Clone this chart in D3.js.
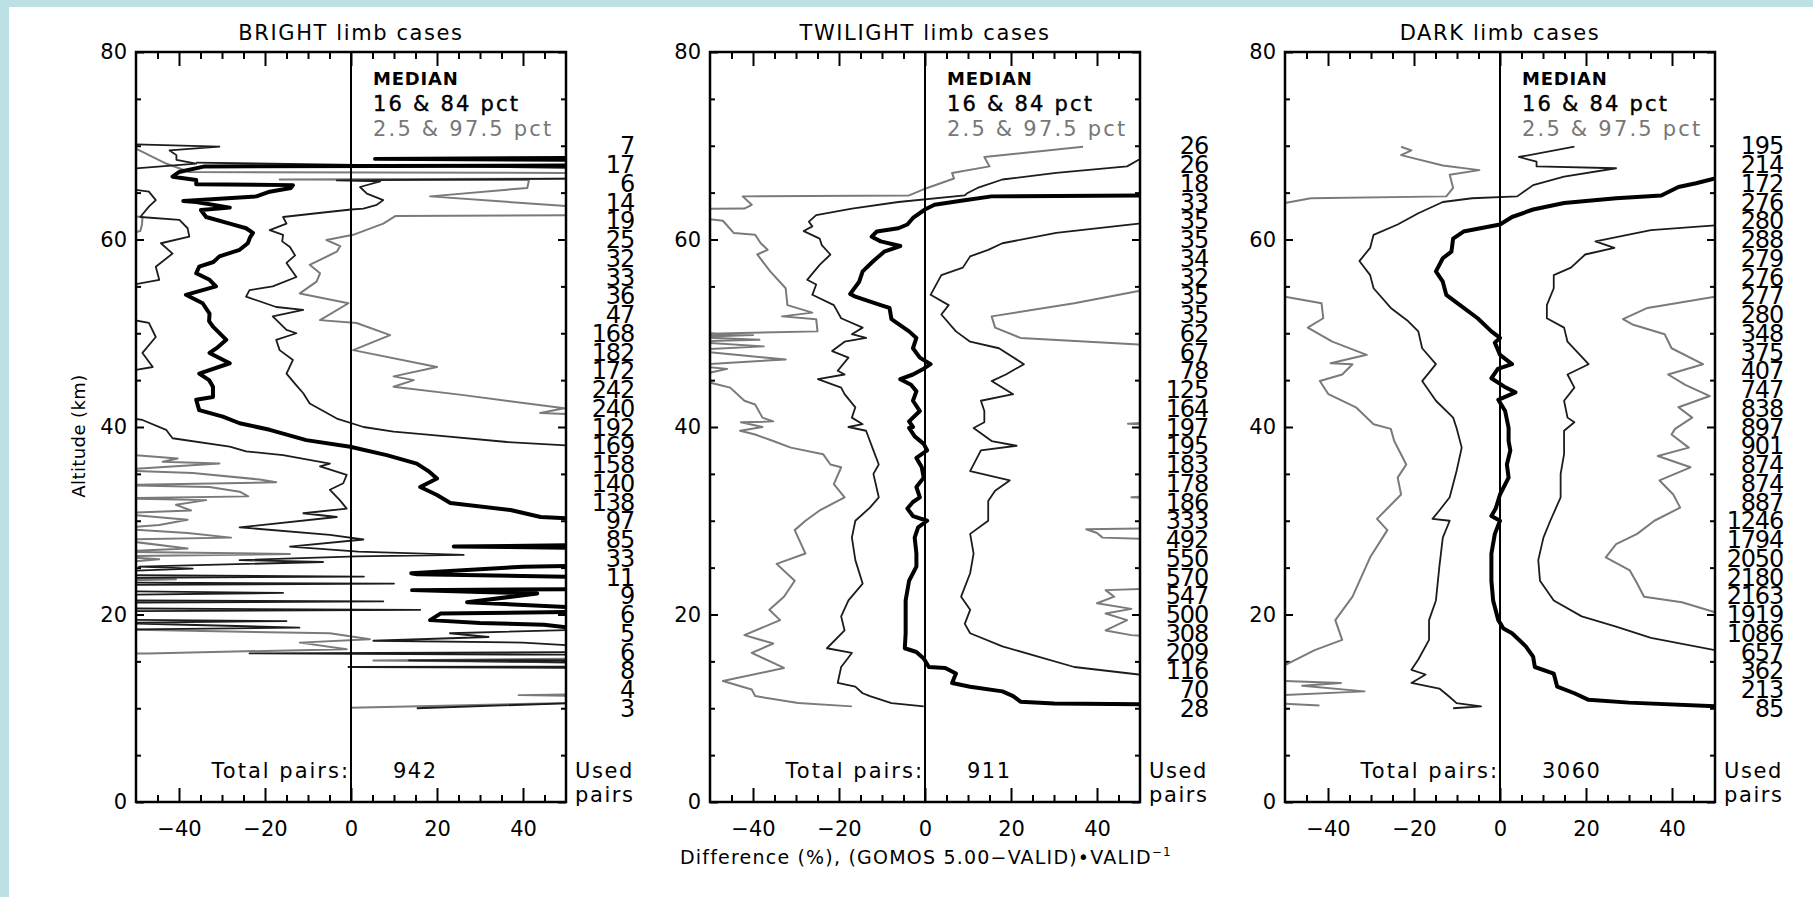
<!DOCTYPE html>
<html><head><meta charset="utf-8">
<script src="https://cdn.jsdelivr.net/npm/d3@7"></script>
<style>
html,body{margin:0;padding:0;background:#fff;}
svg{display:block;}
text{font-family:"DejaVu Sans",sans-serif;}
</style></head>
<body>
<svg id="chart" width="1813" height="897"></svg>
<script>
// ---------------- DATA ----------------
// each profile: [altitude km, difference %]
const panelTitles = ["BRIGHT limb cases", "TWILIGHT limb cases", "DARK limb cases"];
const totalPairs = [942, 911, 3060];
const pairAltitudes = [70,68,66,64,62,60,58,56,54,52,50,48,46,44,42,40,38,36,34,32,30,28,26,24,22,20,18,16,14,12,10];
const brightPairs = [7,17,6,14,19,25,32,33,36,47,168,182,172,242,240,192,169,158,140,138,97,85,33,11,9,6,5,6,8,4,3];
const twilightPairs = [26,26,18,33,35,35,34,32,35,35,62,67,78,125,164,197,195,183,178,186,333,492,550,570,547,500,308,209,116,70,28];
const darkPairs = [195,214,172,276,280,288,279,276,277,280,348,375,407,747,838,897,901,874,874,887,1246,1794,2050,2180,2163,1919,1086,657,362,213,85];
const xTickValues = [-40,-20,0,20,40];
const yTickValues = [0,20,40,60,80];

const brightMed = [[68.7,60],[68.6,5.6],[68.5,60],[67.9,60],[67.8,-34],[67.2,-40],[66.7,-41.5],[66.35,-36],[65.9,-36],[65.8,-13.5],[65.5,-14],[65.1,-18.9],[64.6,-22],[64.1,-39],[64.0,-36],[63.4,-28.2],[63.15,-34.9],[62.4,-33.7],[61.7,-28.2],[61.2,-24.4],[60.7,-22.8],[60.2,-23.5],[59.6,-24],[58.9,-25.9],[58.2,-30.6],[57.6,-32],[57.1,-35.3],[56.4,-36],[55.7,-32.9],[55.0,-31.4],[54.1,-38.4],[53.2,-34.5],[52.1,-32.9],[51.3,-33],[50.7,-32.1],[49.3,-29],[48.5,-31],[47.9,-32.9],[46.8,-28.2],[45.7,-35.3],[45.0,-33],[44.3,-32.1],[43.2,-32.1],[42.9,-36],[41.8,-35.3],[41.1,-29.8],[40.4,-25.9],[39.7,-18.9],[38.6,-10.4],[37.9,-0.2],[37.0,8.3],[36.1,15.3],[35.3,18],[34.5,20],[33.6,16.1],[32.75,20],[31.9,23.1],[31.15,37.1],[30.4,44.1],[30.15,55],[27.4,55],[27.25,23.9],[27.1,55],[25.2,55],[25.1,40],[24.4,14],[24.3,15.3],[24.0,55],[22.7,55],[22.6,14.2],[22.4,30],[22.25,43.3],[21.3,27],[20.7,55],[20.3,55],[20.1,20.8],[19.4,18.4],[19.1,30],[18.9,44.9],[18.4,55]];
const brightP16 = [[70.2,-55],[69.9,-30.6],[69.5,-42.2],[69.0,-40.6],[68.5,-40.6],[68.1,-36],[67.4,-55],[65.6,-55],[65.1,-47],[64.2,-45.4],[63.5,-47],[62.4,-49],[62.1,-39.9],[61.2,-38],[60.3,-37.6],[59.6,-44.2],[58.5,-41.5],[57.1,-45.4],[55.7,-44.6],[54.8,-55],[51.8,-55],[51.1,-47],[49.6,-45.4],[47.9,-48.5],[46.4,-46.1],[45.7,-55],[41.2,-55],[40.75,-48.5],[39.7,-43],[38.8,-41.5],[37.9,-28.2],[37.4,-24.4],[37.0,-15.8],[36.1,-4.9],[35.8,-7.2],[34.9,-1],[34.0,-1.8],[33.3,-4.9],[32.2,-2.6],[31.3,-1],[30.8,-11.1],[30.4,-3.3],[29.3,-25.9],[28.5,-4.9],[28.0,2.9],[27.25,-14.2],[26.7,1.7],[26.35,26.2],[26.2,1.3],[25.8,-25.9],[25.6,-6.5],[25.1,-49.3],[24.9,-36.8],[24.6,-55],[24.2,-55],[24.05,3],[23.9,-55],[23.4,-55],[23.3,10],[23.15,-55],[22.5,-55],[22.3,-15.8],[22.1,-55],[21.5,-55],[21.4,7.5],[21.25,-55],[20.65,-55],[20.5,16.1],[20.35,-55],[19.45,-55],[19.3,-15],[19.1,-55],[18.6,-12],[18.4,-55]];
const brightP84 = [[68.2,-36],[67.6,55],[66.5,55],[66.3,-3.3],[66.2,6.8],[65.6,2.1],[64.9,3.7],[64.2,7.5],[63.7,6],[63.3,2.9],[63.2,0],[62.8,-8],[62.4,-15.8],[61.7,-15],[61.0,-18.9],[60.5,-15.8],[59.8,-16],[59.2,-14.2],[58.3,-13],[57.5,-15],[56.0,-12.7],[55.0,-18.2],[54.6,-23.6],[53.9,-24.4],[52.8,-17.4],[52.5,-11.1],[51.8,-18.2],[50.35,-15],[50.0,-12.7],[49.3,-17.4],[48.2,-16.6],[47.15,-13.5],[45.7,-15],[44.6,-13],[43.6,-11.1],[42.5,-9.6],[40.9,-3.3],[40.0,2.9],[39.5,9.9],[39.15,18.4],[38.4,36.3],[37.9,55],[18.4,55],[18.0,23],[17.6,32],[17.2,5.2],[17.0,40],[16.6,55],[16.0,55],[15.85,-23.6],[15.7,55],[15.15,55],[15.1,13.5],[14.9,55],[14.45,55],[14.4,-0.6],[14.3,55],[10.6,55],[10.0,15.3]];
const brightP25 = [[62.6,-55],[62.4,-48.5],[61.6,-48.6],[60.9,-49],[60.3,-55],[38.3,-55],[37.0,-50],[36.65,-40.3],[36.3,-43.8],[36.1,-30.6],[35.4,-55],[35.1,-36.8],[34.4,-21.2],[34.1,-17.4],[33.8,-55],[33.6,-32.9],[33.1,-25.9],[32.6,-23.9],[32.4,-55],[32.2,-33.7],[31.7,-40.7],[31.1,-37.2],[30.8,-55],[30.1,-38],[29.55,-44.6],[29.2,-55],[28.7,-38],[28.2,-27.9],[28.0,-55],[27.05,-38],[26.7,-55],[26.45,-14.2],[26.2,-55],[25.9,-44.6],[25.5,-55],[23.8,-55],[23.75,-40.7],[23.6,-55],[18.4,-55],[18.0,-4.9],[17.35,4.4],[17.0,-11.9],[16.3,-1],[15.85,-47.3],[15.8,-55]];
const brightP975 = [[69.8,-55],[69.7,-50],[68.1,-43],[67.2,-37.6],[67.1,55],[66.5,55],[66.4,-16.6],[66.35,41.4],[65.5,41],[64.6,18.4],[63.4,55],[62.6,55],[62.5,10.3],[61.7,7.5],[60.5,0.5],[59.95,-5.7],[59.3,-2.5],[58.7,-3.3],[57.3,-9.6],[56.4,-7.2],[55.5,-8],[54.25,-11.9],[53.2,-0.6],[51.4,-7.2],[51.1,1.3],[49.8,9.1],[48.2,0.5],[46.4,20],[45.4,9.9],[45.0,14.6],[44.3,9.9],[43.4,26.2],[42.0,49.6],[41.5,44],[41.3,55],[15.3,55],[15.1,5.2],[14.95,40],[14.8,55],[11.5,55],[11.4,39],[11.3,55],[10.6,55],[10.05,0]];

const twiMed = [[64.7,55],[64.6,15.5],[64.15,8.8],[63.7,2.2],[63.2,0],[62.3,-2.8],[61.6,-4.1],[61.2,-6.2],[60.85,-11.2],[60.3,-12.4],[59.8,-10.3],[59.3,-5.75],[58.7,-9.5],[57.7,-12],[56.6,-14.5],[55.5,-15.3],[54.2,-17.4],[53.9,-16.2],[53.0,-10.3],[52.7,-8.25],[51.5,-7.8],[50.2,-3.7],[49.5,-2],[48.4,-2.8],[47.4,-1.2],[46.7,1.3],[46.1,-0.75],[45.6,-2.8],[45.1,-5.75],[44.5,-3.25],[43.8,-2],[42.8,-2.8],[41.7,-1.2],[40.6,-3.7],[40.0,-2.8],[39.9,-3.7],[39.0,-2.4],[38.2,-0.3],[37.5,0.5],[36.7,-2],[35.7,-0.75],[34.6,-0.3],[33.6,-2],[32.5,-1.2],[32.0,-2.8],[31.3,-4.1],[30.5,-2.8],[30.0,0.5],[29.3,-1.6],[28.2,-2.4],[26.5,-2],[25.1,-2],[23.6,-3.7],[21.5,-4.5],[19.4,-4.5],[18.0,-4.5],[16.4,-4.7],[16.0,-2],[15.3,-0.3],[14.4,0.9],[14.3,4.7],[13.7,7.2],[12.7,6.3],[12.3,10.5],[11.8,18],[11.3,20.5],[10.7,22.2],[10.5,30],[10.4,55]];
const twiP16 = [[68.6,55],[68.5,49.7],[67.8,47],[67.1,30.5],[66.4,18],[65.5,12.2],[64.9,9.7],[64.7,9.25],[64.0,-6.2],[63.3,-17],[62.6,-25.3],[61.9,-27],[61.4,-26.2],[60.9,-28.2],[60.1,-24.5],[59.4,-24],[58.4,-22],[57.3,-24.5],[55.7,-27.4],[55.2,-25.3],[54.1,-26.2],[53.0,-21.2],[51.6,-19.5],[50.6,-14.5],[49.9,-17],[49.5,-13.7],[49.1,-18.7],[48.1,-21.6],[47.4,-17.8],[46.0,-20.3],[45.6,-18.7],[45.1,-24.9],[44.2,-19.5],[43.5,-18.7],[42.1,-16.2],[41.0,-17],[40.3,-14.5],[40.0,-17.8],[39.6,-13.7],[37.5,-12],[36.0,-10.75],[35.0,-12],[32.5,-10.75],[31.4,-12.8],[30.0,-16.2],[28.2,-17],[25.8,-16.2],[23.3,-14.5],[21.5,-17.8],[19.8,-19.5],[18.3,-18.7],[16.4,-22.8],[15.9,-17],[14.4,-19.5],[12.7,-20.3],[12.3,-16.2],[11.6,-14.5],[11.3,-12.8],[10.55,-7.8],[10.2,-0.3]];
const twiP84 = [[61.75,55],[61.7,49.7],[60.7,30.5],[59.6,18],[58.9,14.7],[58.2,10.5],[57.0,8.8],[56.2,3.8],[54.1,1.3],[53.0,5.5],[52.0,3.8],[50.2,7.2],[49.1,10.5],[48.4,17.2],[46.7,23],[45.6,18.8],[44.9,15.5],[43.5,20.5],[42.8,13],[41.7,13.8],[40.5,13.8],[39.9,11.3],[38.5,15.5],[38.0,21.3],[37.5,13],[35.3,10.5],[34.3,19.7],[33.2,16.3],[32.1,14.7],[30.0,14.7],[28.6,10.5],[26.5,11.3],[24.4,10.5],[21.9,8.4],[20.5,10.5],[19.0,9.25],[18.0,10.5],[16.6,18],[15.5,26.3],[14.4,34.7],[13.6,49.7],[13.5,55]];
const twiP25 = [[69.9,36.75],[68.8,13.8],[67.8,15],[67.1,6.3],[66.5,6.75],[65.5,0.5],[64.7,-3.7],[64.6,-42.4],[63.7,-40.3],[63.3,-42],[63.25,-55],[62.4,-55],[62.0,-47],[60.7,-44.5],[60.5,-39.5],[59.6,-38.2],[58.9,-36.6],[58.4,-39],[56.6,-36],[54.8,-32.4],[53.0,-32],[52.2,-26.2],[51.8,-33.25],[51.5,-25.3],[50.2,-25],[50.0,-45.3],[49.9,-55],[49.8,-40],[49.6,-55],[49.3,-38.5],[49.1,-55],[48.6,-37.5],[48.2,-55],[47.2,-32.4],[46.6,-55],[46.2,-46],[45.3,-55],[44.2,-45.3],[42.8,-42],[42.4,-39.5],[41.0,-37.8],[40.6,-35.3],[40.5,-42.8],[40.0,-37.8],[39.6,-43],[39.2,-39.5],[38.5,-35.3],[37.8,-31.2],[37.1,-23.7],[36.0,-22],[35.7,-19.5],[33.9,-21.2],[32.5,-18.7],[31.1,-24.5],[30.0,-27.8],[29.0,-30.3],[26.5,-27.8],[25.4,-34.5],[23.6,-30.3],[21.9,-32.8],[20.5,-36.2],[19.4,-33.7],[17.8,-42],[16.9,-35.3],[15.9,-40.3],[14.3,-32.8],[12.9,-47],[12.0,-40.3],[11.3,-39.5],[10.55,-29.5],[10.2,-17]];
const twiP975 = [[54.6,55],[54.5,49.7],[53.2,34.7],[51.8,15.5],[50.6,16.3],[49.5,22.2],[48.8,49.7],[48.7,55],[40.6,55],[40.35,47.2],[40.2,55],[32.7,55],[32.5,48],[32.3,55],[29.2,55],[29.1,37.5],[28.7,40],[28.2,41.3],[28.0,55],[22.8,55],[22.6,42],[21.9,44],[21.2,40],[20.6,48],[20.1,42],[19.4,47],[18.3,42],[17.8,48],[17.6,55]];

const darkMed = [[66.6,55],[66.5,50],[66.0,45.6],[65.6,41.5],[64.7,37.5],[64.4,27],[63.9,14.9],[63.2,7.7],[62.4,2.8],[61.6,0],[60.85,-8.5],[60.1,-10.9],[58.7,-11.3],[58.0,-13.3],[56.6,-14.9],[55.5,-13.3],[54.1,-12.5],[53.0,-9.3],[51.6,-5.2],[50.2,-2],[49.5,0],[49.0,-1.2],[47.7,0],[46.7,2.8],[46.2,-0.5],[45.2,-2],[44.3,1],[43.7,3.6],[42.9,-0.4],[41.7,1.2],[39.9,2],[38.5,2],[37.5,2.4],[36.0,1.6],[34.6,2],[32.8,0],[31.3,-1],[30.5,-2],[30.0,0],[28.6,-1.2],[26.5,-2],[23.6,-2],[21.5,-1.6],[19.4,-0.4],[18.5,0.8],[18.0,2.8],[16.6,6],[15.5,7.7],[14.4,8.1],[13.7,12.5],[12.3,13.3],[11.6,17.3],[10.9,20.6],[10.6,30],[10.2,50],[10.1,55]];
const darkP16 = [[69.9,17.3],[68.8,4.4],[68.3,8.5],[67.8,8.5],[67.6,27],[66.7,14.9],[65.8,7.7],[64.6,4],[64.4,-6.5],[64.0,-13.3],[62.8,-19],[61.6,-23.8],[60.5,-29.4],[59.1,-30.2],[57.7,-32.7],[56.2,-30.2],[54.8,-29.4],[52.7,-25.4],[51.3,-21.4],[50.2,-19],[48.4,-18.1],[46.7,-14.9],[44.9,-18.1],[42.8,-14.9],[41.0,-10.9],[39.9,-10.1],[37.8,-8.9],[35.3,-10.1],[32.5,-11.7],[31.1,-14.1],[30.2,-15.7],[30.0,-11.7],[28.2,-13.3],[25.1,-14.1],[21.5,-14.9],[19.4,-16.5],[17.3,-16.5],[15.2,-19],[14.1,-20.6],[13.6,-17.3],[12.7,-20.6],[12.1,-14.1],[11.2,-11.7],[10.55,-10.1],[10.2,-4.4],[10.0,-10.9]];
const darkP84 = [[61.55,55],[61.5,50],[61.0,35.1],[59.8,22.2],[59.1,26.6],[58.4,19.8],[57.0,16.5],[56.2,12.5],[54.8,12.5],[53.0,10.9],[51.6,10.9],[50.6,14.9],[49.1,15.7],[46.7,20.6],[45.6,15.7],[44.2,17.3],[42.8,14.9],[41.0,15.7],[40.5,17.3],[39.6,14.9],[37.1,14.9],[35.0,14.1],[32.5,14.1],[30.0,11.7],[28.2,10.1],[25.8,8.9],[23.6,9.3],[21.5,12.5],[19.8,19],[18.7,27],[17.5,35.1],[16.2,50],[16.1,55]];
const darkP25 = [[69.9,-23],[69.5,-20.6],[69.0,-23],[67.9,-13.3],[67.4,-4.8],[66.9,-11.7],[65.5,-10.9],[64.6,-12.5],[64.4,-44],[63.9,-50],[63.8,-55],[54.0,-55],[53.9,-50],[53.2,-41.5],[51.6,-41.1],[50.6,-44.7],[49.1,-39],[47.7,-31],[46.8,-39.4],[46.7,-34.3],[45.6,-36.7],[44.9,-41.9],[43.5,-39.9],[42.1,-33.5],[40.3,-29.4],[39.8,-25.4],[38.5,-24.6],[36.0,-21.8],[34.6,-23.8],[32.8,-23],[30.2,-28.6],[29.0,-26.2],[26.1,-30.2],[21.9,-34.3],[19.4,-38.3],[17.3,-36.7],[16.2,-43.1],[14.6,-50],[14.5,-55],[13.0,-55],[12.7,-37],[12.4,-46],[11.8,-31.5],[11.3,-55],[10.6,-55],[10.3,-42]];
const darkP975 = [[54.0,55],[53.9,50],[52.7,34.3],[51.5,28.6],[50.9,31],[49.9,38.3],[48.4,39.9],[46.7,47.2],[45.6,39.1],[44.5,43.1],[43.3,48.8],[42.1,41.5],[41.0,44.7],[39.8,40.7],[39.2,39.9],[37.8,43.9],[36.9,36.7],[35.7,44.3],[34.3,37.1],[32.8,40.3],[31.4,41.9],[30.0,35.9],[28.6,31.9],[27.5,27],[26.1,24.6],[24.7,30.2],[23.3,31.9],[21.9,33.5],[21.3,42.3],[20.3,49.6],[20.2,55]];

// ---------------- DRAW ----------------
const svg = d3.select("#chart");
svg.append("rect").attr("x",0).attr("y",0).attr("width",1813).attr("height",897).attr("fill","#fff");
svg.append("rect").attr("x",0).attr("y",0).attr("width",1813).attr("height",7).attr("fill","#bde0e4");
svg.append("rect").attr("x",0).attr("y",0).attr("width",9).attr("height",897).attr("fill","#bde0e4");

const panelLefts = [136, 710, 1285];
const panelW = 430, plotTop = 52, plotBottom = 802;
const yScale = d3.scaleLinear().domain([0,80]).range([plotBottom, plotTop]);

const panels = [
  {med: brightMed, p16: brightP16, p84: brightP84, p25: brightP25, p975: brightP975, pairs: brightPairs},
  {med: twiMed, p16: twiP16, p84: twiP84, p25: twiP25, p975: twiP975, pairs: twilightPairs},
  {med: darkMed, p16: darkP16, p84: darkP84, p25: darkP25, p975: darkP975, pairs: darkPairs}
];

panels.forEach((p, i) => {
  const L = panelLefts[i], R = L + panelW;
  const x = d3.scaleLinear().domain([-50,50]).range([L, R]);
  const y = yScale;
  const g = svg.append("g");

  const clipId = "clip" + i;
  svg.append("clipPath").attr("id", clipId).append("rect")
    .attr("x", L).attr("y", plotTop).attr("width", panelW).attr("height", plotBottom - plotTop);

  g.append("text").attr("x", (L + R) / 2).attr("y", 40).attr("text-anchor","middle")
    .attr("font-size", 21).attr("letter-spacing", 1.6).text(panelTitles[i]);

  const minorX = d3.range(-45, 50, 5).filter(v => v % 20 !== 0);
  const minorY = d3.range(5, 80, 5).filter(v => v % 20 !== 0);
  const axStyle = sel => { sel.select(".domain").remove(); sel.selectAll("line").attr("stroke","#000").attr("stroke-width",2); };

  const bx = g.append("g").attr("transform",`translate(0,${plotBottom})`)
    .call(d3.axisBottom(x).tickValues(xTickValues).tickSize(-14).tickPadding(19).tickFormat(d3.format("d")));
  axStyle(bx);
  bx.selectAll("text").attr("font-size", 21).attr("font-family","DejaVu Sans").attr("fill","#000");
  g.append("g").attr("transform",`translate(0,${plotBottom})`)
    .call(d3.axisBottom(x).tickValues(minorX).tickSize(-7).tickFormat("")).call(axStyle);
  g.append("g").attr("transform",`translate(0,${plotTop})`)
    .call(d3.axisTop(x).tickValues(xTickValues).tickSize(-14).tickFormat("")).call(axStyle);
  g.append("g").attr("transform",`translate(0,${plotTop})`)
    .call(d3.axisTop(x).tickValues(minorX).tickSize(-7).tickFormat("")).call(axStyle);

  const ly = g.append("g").attr("transform",`translate(${L},0)`)
    .call(d3.axisLeft(y).tickValues(yTickValues).tickSize(-8).tickPadding(9).tickFormat(d3.format("d")));
  axStyle(ly);
  ly.selectAll("text").attr("font-size", 21).attr("font-family","DejaVu Sans").attr("fill","#000");
  g.append("g").attr("transform",`translate(${L},0)`)
    .call(d3.axisLeft(y).tickValues(minorY).tickSize(-5).tickFormat("")).call(axStyle);
  g.append("g").attr("transform",`translate(${R},0)`)
    .call(d3.axisRight(y).tickValues(yTickValues).tickSize(-8).tickFormat("")).call(axStyle);
  g.append("g").attr("transform",`translate(${R},0)`)
    .call(d3.axisRight(y).tickValues(minorY).tickSize(-5).tickFormat("")).call(axStyle);

  const line = d3.line().x(d => x(d[1])).y(d => y(d[0]));
  const lg = g.append("g").attr("clip-path", `url(#${clipId})`);
  [p.p25, p.p975].forEach(d => lg.append("path").attr("d", line(d)).attr("fill","none")
    .attr("stroke","#7a7a7a").attr("stroke-width",2).attr("stroke-linejoin","round"));
  [p.p16, p.p84].forEach(d => lg.append("path").attr("d", line(d)).attr("fill","none")
    .attr("stroke","#1c1c1c").attr("stroke-width",1.8).attr("stroke-linejoin","round"));

  g.append("line").attr("x1", x(0)).attr("x2", x(0)).attr("y1", plotTop).attr("y2", plotBottom)
    .attr("stroke","#000").attr("stroke-width",2);

  lg.append("path").attr("d", line(p.med)).attr("fill","none")
    .attr("stroke","#000").attr("stroke-width",4).attr("stroke-linejoin","round");

  g.append("rect").attr("x", L).attr("y", plotTop).attr("width", panelW).attr("height", plotBottom - plotTop)
    .attr("fill","none").attr("stroke","#000").attr("stroke-width",2.5);

  const lx = x(0) + 22;
  g.append("text").attr("x", lx).attr("y", 85).attr("font-size", 18).attr("font-weight","bold")
    .attr("letter-spacing", 0.8).text("MEDIAN");
  g.append("text").attr("x", lx).attr("y", 111).attr("font-size", 21).attr("letter-spacing", 2.2)
    .attr("stroke","#000").attr("stroke-width",0.4).text("16 & 84 pct");
  g.append("text").attr("x", lx).attr("y", 136).attr("font-size", 21).attr("letter-spacing", 2.2)
    .attr("fill","#777").text("2.5 & 97.5 pct");

  g.append("g").selectAll("text").data(p.pairs).join("text")
    .attr("x", R + 68).attr("y", (d, k) => y(pairAltitudes[k]))
    .attr("dy", "0.36em").attr("text-anchor","end").attr("font-size", 24).attr("letter-spacing", -1.2)
    .text(d => d);
  g.append("text").attr("x", R + 9).attr("y", 778).attr("font-size", 21).attr("letter-spacing", 1.6).text("Used");
  g.append("text").attr("x", R + 9).attr("y", 802).attr("font-size", 21).attr("letter-spacing", 1.6).text("pairs");

  g.append("text").attr("x", x(0) - 1).attr("y", 778).attr("text-anchor","end")
    .attr("font-size", 21).attr("letter-spacing", 2).text("Total pairs:");
  g.append("text").attr("x", x(0) + 42).attr("y", 778)
    .attr("font-size", 21).attr("letter-spacing", 1.5).text(totalPairs[i]);
});

svg.append("text").attr("transform","translate(85,436) rotate(-90)").attr("text-anchor","middle")
  .attr("font-size", 18).attr("letter-spacing", 0.4).text("Altitude (km)");
const xt = svg.append("text").attr("x", 926).attr("y", 864).attr("text-anchor","middle")
  .attr("font-size", 19).attr("letter-spacing", 1.2);
xt.append("tspan").text("Difference (%), (GOMOS 5.00\u2212VALID)\u2022VALID");
xt.append("tspan").attr("font-size", 12).attr("dy", -8).text("\u22121");
</script>
</body></html>
